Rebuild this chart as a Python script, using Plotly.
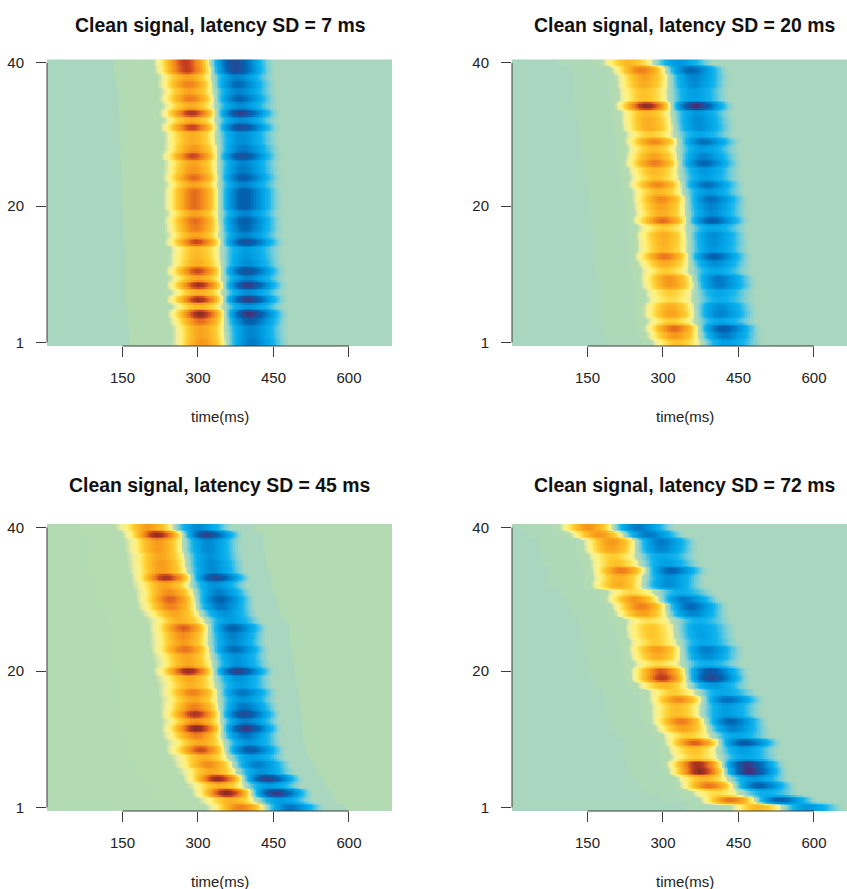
import numpy as np
import plotly.graph_objects as go

W, H = 847, 889
titles = ["Clean signal, latency SD = 7 ms", "Clean signal, latency SD = 20 ms",
          "Clean signal, latency SD = 45 ms", "Clean signal, latency SD = 72 ms"]

# Peak latency (ms) of each trial, listed from trial 40 down to trial 1
lat_a = [274,276,278,280,282,283,284,286,286,287,287,288,290,289,290,290,291,291,292,292,
         292,293,293,294,294,296,297,297,298,298,299,300,300,300,301,303,304,305,306,307]
lat_b = [232,256,262,262,262,263,266,268,270,272,274,281,280,281,282,283,285,288,291,296,
         296,297,298,300,300,301,301,302,304,305,311,313,313,314,314,315,316,321,323,328]
lat_c = [201,218,220,220,224,226,228,235,234,241,244,246,253,264,270,270,270,273,276,279,
         280,282,285,289,290,292,293,295,296,296,302,304,310,319,326,338,342,356,364,383]
lat_d = [151,172,197,197,200,206,216,213,211,236,243,256,259,272,275,277,282,287,288,289,
         295,297,302,319,329,327,327,335,340,348,362,360,364,368,372,381,391,405,433,488]

# Peak amplitude of each trial, same order
amp_a = [.88,.88,.55,.68,.55,.70,.50,.92,.50,.85,.50,.50,.60,.85,.55,.60,.75,.55,.75,.75,
         .75,.55,.75,.70,.55,.85,.42,.45,.50,.85,.55,.95,.50,.95,.45,1.0,.75,.55,.55,.60]
amp_b = [.45,.70,.55,.50,.40,.40,1.0,.45,.50,.50,.35,.65,.42,.55,.70,.45,.40,.65,.45,.65,
         .55,.50,.75,.35,.50,.48,.45,.72,.50,.35,.60,.60,.35,.30,.50,.55,.35,.75,.60,.40]
amp_c = [.55,.95,.55,.55,.50,.55,.55,.90,.50,.60,.75,.65,.50,.45,.75,.60,.55,.70,.50,.50,
         .95,.50,.45,.65,.50,.65,.90,.60,.98,.65,.50,.80,.45,.60,.50,.95,.45,.98,.45,.65]
amp_d = [.60,.60,.60,.55,.35,.40,.70,.48,.50,.30,.60,.68,.55,.28,.38,.38,.35,.58,.50,.30,
         .80,.90,.45,.35,.65,.42,.42,.70,.55,.35,.78,.40,.35,.95,1.0,.45,.72,.30,.72,.45]

latencies = [lat_a, lat_b, lat_c, lat_d]
amplitudes = [amp_a, amp_b, amp_c, amp_d]
baseline = [0.0, 0.0, 0.03, 0.0]
shelf_gain = [1.0, 0.55, 1.0, 0.55]

# Waveform read from a trial: offset from the positive peak (ms) and relative height
wave_offset = [-70,-60,-50,-40,-25,-10,0,10,30,45,52,60,75,90,100,110,130,150,165,180]
wave_height = [0,.06,.18,.35,.65,.92,1,.95,.65,.25,0,-.25,-.65,-.93,-1,-.93,-.65,-.30,-.10,0]
# Faint shelf before the wave and tail after it
shelf_offset = [-146,-140,-60,-50,150,185,210,216]
shelf_height = [0,.03,.03,0,0,-.018,-.018,0]

scale_z = [-1,-.85,-.7,-.55,-.4,-.25,-.1,-.03,.012,.017,.025,.07,.12,.2,.35,.55,.7,.85,1]
scale_c = ["#4b2b72","#1f4f9c","#0063b0","#0083cc","#00a0e4","#10b4ee","#7fd0d6","#a8d6be",
           "#a8d6be","#aed9b8","#b2dbb3","#b4dbb0","#f2ee9c","#fff27a","#ffcb2e","#f9a21c","#ee7c1e","#c8431f","#8a2a25"]
colorscale = [[(z + 1) / 2, c] for z, c in zip(scale_z, scale_c)]

trials = np.arange(40, 0, -1)
time = np.arange(0, 700, 3.0)
sub = 5
sub_y = np.array([t + (k - (sub - 1) / 2) / sub for t in trials[::-1] for k in range(sub)])

panels = [(47, 392, 59.3, 346), (512, 847, 59.3, 346), (47, 392, 524, 811), (512, 847, 524, 811)]
title_x = [219.5, 684.5, 219.5, 684.5]
title_y = [25, 25, 485, 485]
label_y = [417, 417, 881, 881]
DARK = "#3c3c3c"
FONT = "Liberation Sans"

fig = go.Figure()
for i, (x0, x1, y0, y1) in enumerate(panels):
    n = "" if i == 0 else str(i + 1)
    lat = np.array(latencies[i])[::-1]
    amp = np.array(amplitudes[i])[::-1]
    rows = []
    for L, A in zip(lat, amp):
        d = time - L
        rows.append(baseline[i] + A * np.interp(d, wave_offset, wave_height)
                    + shelf_gain[i] * np.interp(d, shelf_offset, shelf_height))
    z = np.repeat(np.array(rows), sub, axis=0)
    pad = np.vstack([z[:1], z, z[-1:]])
    z = (pad[:-2] + pad[1:-1] * 2 + pad[2:]) / 4
    fig.add_trace(go.Heatmap(x=time, y=sub_y, z=z, xaxis="x" + n, yaxis="y" + n,
                             colorscale=colorscale, zmin=-1, zmax=1, showscale=False,
                             hoverinfo="skip", zsmooth=False))
    range_px = 0.5033
    xa = dict(domain=[x0 / W, x1 / W], range=[0, (x1 - x0) / range_px], anchor="y" + n,
              tickmode="array", tickvals=[150, 300, 450, 600], ticks="outside", ticklen=10,
              tickwidth=1, tickcolor=DARK, showgrid=False, zeroline=False, showline=False,
              ticklabelstandoff=8, tickfont=dict(family=FONT, size=15, color="#222"))
    ya = dict(domain=[1 - y1 / H, 1 - y0 / H], range=[0.5, 40.5], anchor="x" + n,
              tickmode="array", tickvals=[1, 20, 40], ticks="outside", ticklen=10,
              tickwidth=1, tickcolor=DARK, showgrid=False, zeroline=False, showline=False,
              ticklabelstandoff=9, tickfont=dict(family=FONT, size=15, color="#222"))
    fig.update_layout({"xaxis" + n: xa, "yaxis" + n: ya})
    fig.add_shape(type="line", xref="x" + n, yref=f"y{n} domain", x0=150, x1=600, y0=0, y1=0,
                  line=dict(color=DARK, width=1))
    fig.add_shape(type="line", xref=f"x{n} domain", yref="y" + n, x0=0, x1=0, y0=1, y1=40,
                  line=dict(color=DARK, width=1))
    fig.add_annotation(text="<b>" + titles[i] + "</b>", xref="paper", yref="paper",
                       x=title_x[i] / W, y=1 - title_y[i] / H, showarrow=False,
                       xanchor="center", yanchor="middle",
                       font=dict(family=FONT, size=19.4, color="#111"))
    fig.add_annotation(text="time(ms)", xref="paper", yref="paper",
                       x=title_x[i] / W, y=1 - label_y[i] / H, showarrow=False,
                       xanchor="center", yanchor="middle",
                       font=dict(family=FONT, size=15, color="#222"))

fig.update_layout(width=W, height=H, autosize=False,
                  margin=dict(l=0, r=0, t=0, b=0, autoexpand=False),
                  paper_bgcolor="white", plot_bgcolor="white", showlegend=False)
fig.write_html("out.html", default_width="847px", default_height="889px",
               config=dict(displayModeBar=False, responsive=False),
               post_script="document.body.style.margin='0';document.documentElement.style.overflow='hidden';")
